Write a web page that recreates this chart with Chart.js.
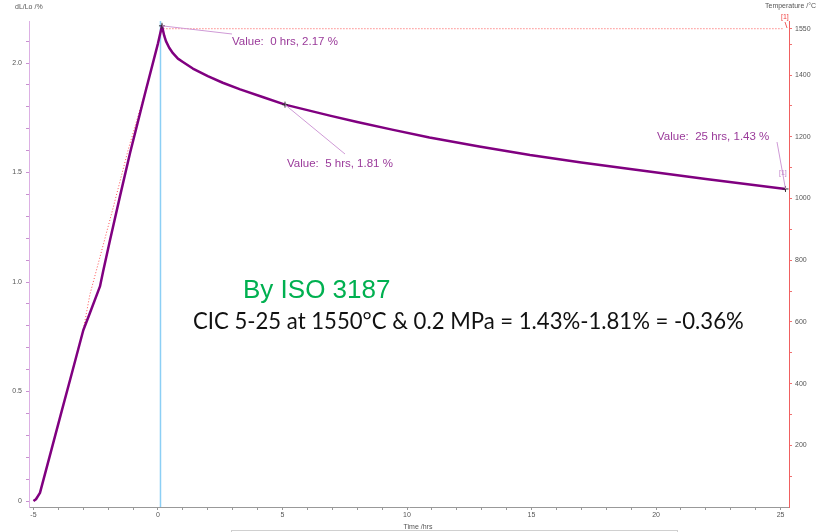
<!DOCTYPE html>
<html>
<head>
<meta charset="utf-8">
<script src="https://cdn.jsdelivr.net/npm/chart.js@4.4.0/dist/chart.umd.min.js"></script>
<style>
html, body { margin: 0; padding: 0; background: #fff; }
#wrap { width: 819px; height: 532px; position: relative; }
</style>
</head>
<body>
<div id="wrap"><canvas id="cic"></canvas></div>
<script>
// dL/Lo curve (time in hrs, value in %)
const dlTime  = [-5.0, -4.9, -4.74, -4.27, -3.87, -3.47, -3.0, -2.73, -2.33, -2.2, -1.93, -1.53, -1.12, -0.5, 0.0,
                 0.16, 0.2, 0.25, 0.32, 0.45, 0.6, 0.8, 1.0, 1.4, 2.0, 2.6, 3.3, 4.2, 5.1, 6.0, 6.9, 8.0, 9.4, 10.9, 12.9, 14.94, 17.0, 18.96, 22.0, 25.2];
const dlValue = [0.0, 0.008, 0.037, 0.238, 0.409, 0.579, 0.78, 0.86, 0.98, 1.05, 1.19, 1.39, 1.59, 1.87, 2.09,
                 2.17, 2.15, 2.125, 2.10, 2.07, 2.045, 2.02, 2.005, 1.975, 1.94, 1.91, 1.88, 1.845, 1.81, 1.785, 1.76, 1.731, 1.696, 1.66, 1.619, 1.58, 1.546, 1.516, 1.47, 1.425];

// furnace temperature (time in hrs, °C)
const tempTime  = [-5.0, -4.74, -4.27, -3.87, -3.47, -3.0, -2.73, -2.33, -1.8, -1.2, -0.5, 0.0, 0.15, 25.1];
const tempValue = [20, 45, 185, 310, 430, 575, 690, 810, 970, 1157, 1350, 1500, 1550, 1550];

// picked values and their labels
const pickTime   = [0.16, 5.1, 25.2];
const pickValue  = [2.17, 1.81, 1.425];
const pickLabels = ['Value:  0 hrs, 2.17 %', 'Value:  5 hrs, 1.81 %', 'Value:  25 hrs, 1.43 %'];

// vertical cursor at start of dwell
const cursorTime = 0.1;

// tick labels
const xTickLabels    = [-5, 0, 5, 10, 15, 20, 25];
const dlTickLabels   = [0, 0.5, 1.0, 1.5, 2.0];
const tempTickLabels = [200, 400, 600, 800, 1000, 1200, 1400, 1550];

const xMin = -5.18, xMax = 25.34;
const dlMin = -0.0274, dlMax = 2.192;
const tempMin = 0, tempMax = 1575;

const tickFont = { family: 'Liberation Sans, Arial', size: 7 };
const near = (a, b) => Math.abs(a - b) < 1e-6;

const overlay = {
    id: 'overlay',
    afterDatasetsDraw(chart) {
        const { ctx, scales: { x, y } } = chart;
        ctx.save();

        // leader lines from picked points to their labels
        const leadEnd = [[232, 34], [345, 154], [777, 142]];
        const textAt  = [[232, 42], [287, 164], [657, 137]];
        ctx.strokeStyle = '#cf9ad6';
        ctx.lineWidth = 1;
        pickTime.forEach((t, i) => {
            ctx.beginPath();
            ctx.moveTo(x.getPixelForValue(t), y.getPixelForValue(pickValue[i]));
            ctx.lineTo(leadEnd[i][0], leadEnd[i][1]);
            ctx.stroke();
        });

        ctx.fillStyle = '#9a3a9a';
        ctx.font = '11.5px Liberation Sans, Arial';
        ctx.textBaseline = 'middle';
        ctx.textAlign = 'left';
        pickLabels.forEach((s, i) => ctx.fillText(s, textAt[i][0], textAt[i][1]));

        // small [1] markers
        ctx.font = '7px Liberation Sans, Arial';
        ctx.fillStyle = '#c080c8';
        ctx.fillText('[1]', 779, 173);
        ctx.fillStyle = '#f04040';
        ctx.fillText('[1]', 781, 17);
        ctx.strokeStyle = '#f06060';
        ctx.beginPath();
        ctx.moveTo(785, 22);
        ctx.lineTo(787, 28);
        ctx.stroke();

        // notes
        ctx.textBaseline = 'alphabetic';
        ctx.fillStyle = '#00b050';
        ctx.font = '26px Liberation Sans, Arial';
        ctx.fillText('By ISO 3187', 243, 298);

        const note = 'CIC 5-25 at 1550°C & 0.2 MPa = 1.43%-1.81% = -0.36%';
        ctx.font = '20px Lato';
        const w = ctx.measureText(note).width;
        ctx.font = (20 * 551 / w).toFixed(2) + 'px Lato';
        ctx.fillStyle = '#111';
        ctx.fillText(note, 193, 329);
        ctx.restore();
    },
    afterDraw(chart) {
        const { ctx } = chart;
        ctx.save();
        ctx.fillStyle = '#555';
        ctx.font = '7px Liberation Sans, Arial';
        ctx.textBaseline = 'middle';
        ctx.textAlign = 'left';
        ctx.fillText('dL/Lo /%', 15, 7);
        ctx.fillText('Temperature /°C', 765, 6);
        ctx.textAlign = 'center';
        ctx.fillText('Time /hrs', 418, 527);
        // legend box peeking from below
        ctx.strokeStyle = '#d0d0d0';
        ctx.lineWidth = 1;
        ctx.strokeRect(231.5, 530.5, 446, 12);
        ctx.restore();
    }
};

new Chart(document.getElementById('cic'), {
    type: 'line',
    data: {
        datasets: [
            {
                label: 'dL/Lo',
                data: dlTime.map((t, i) => ({ x: t, y: dlValue[i] })),
                borderColor: '#800080',
                borderWidth: 2.5,
                borderJoinStyle: 'round',
                pointRadius: 0,
                tension: 0,
                yAxisID: 'y',
                order: 1
            },
            {
                label: 'Temperature',
                data: tempTime.map((t, i) => ({ x: t, y: tempValue[i] })),
                borderColor: '#ff5050',
                borderWidth: 1,
                borderDash: [1, 2],
                pointRadius: 0,
                yAxisID: 'y2',
                order: 2
            },
            {
                label: 'Cursor',
                data: [{ x: cursorTime, y: dlMin }, { x: cursorTime, y: dlMax }],
                borderColor: '#8ccff5',
                borderWidth: 1.5,
                pointRadius: 0,
                yAxisID: 'y',
                order: 3
            },
            {
                label: 'Picks',
                type: 'scatter',
                data: pickTime.map((t, i) => ({ x: t, y: pickValue[i] })),
                pointStyle: 'cross',
                pointRadius: 3,
                borderColor: '#333',
                borderWidth: 1,
                showLine: false,
                yAxisID: 'y',
                order: 0
            }
        ]
    },
    options: {
        responsive: true,
        maintainAspectRatio: false,
        animation: false,
        layout: { padding: { top: 21, left: 0, right: 0, bottom: 0 } },
        plugins: { legend: { display: false }, tooltip: { enabled: false } },
        scales: {
            x: {
                type: 'linear',
                min: xMin,
                max: xMax,
                afterBuildTicks: s => {
                    s.ticks = [];
                    for (let v = -5; v <= 25; v++) s.ticks.push({ value: v });
                },
                afterFit: s => { s.height = 25; },
                ticks: {
                    autoSkip: false,
                    maxRotation: 0,
                    padding: 1,
                    color: '#555',
                    font: tickFont,
                    callback: v => xTickLabels.some(l => near(l, v)) ? String(v) : ''
                },
                grid: { drawOnChartArea: false, tickLength: 3, color: '#999' },
                border: { color: '#999' }
            },
            y: {
                type: 'linear',
                position: 'left',
                min: dlMin,
                max: dlMax,
                afterBuildTicks: s => {
                    s.ticks = [];
                    for (let i = 0; i <= 21; i++) s.ticks.push({ value: i / 10 });
                },
                afterFit: s => { s.width = 29; },
                ticks: {
                    autoSkip: false,
                    padding: 4,
                    color: '#555',
                    font: tickFont,
                    callback: v => dlTickLabels.some(l => near(l, v)) ? (v === 0 ? '0' : v.toFixed(1)) : ''
                },
                grid: { drawOnChartArea: false, tickLength: 3, color: '#c890d0' },
                border: { color: '#dcb0e4' }
            },
            y2: {
                type: 'linear',
                position: 'right',
                min: tempMin,
                max: tempMax,
                afterBuildTicks: s => {
                    s.ticks = [];
                    for (let v = 100; v <= 1500; v += 100) s.ticks.push({ value: v });
                    s.ticks.push({ value: 1550 });
                },
                afterFit: s => { s.width = 30; },
                ticks: {
                    autoSkip: false,
                    padding: 3,
                    color: '#555',
                    font: tickFont,
                    callback: v => tempTickLabels.includes(v) ? String(v) : ''
                },
                grid: { drawOnChartArea: false, tickLength: 3, color: '#f07070' },
                border: { color: '#f06060' }
            }
        }
    },
    plugins: [overlay]
});
</script>
</body>
</html>
